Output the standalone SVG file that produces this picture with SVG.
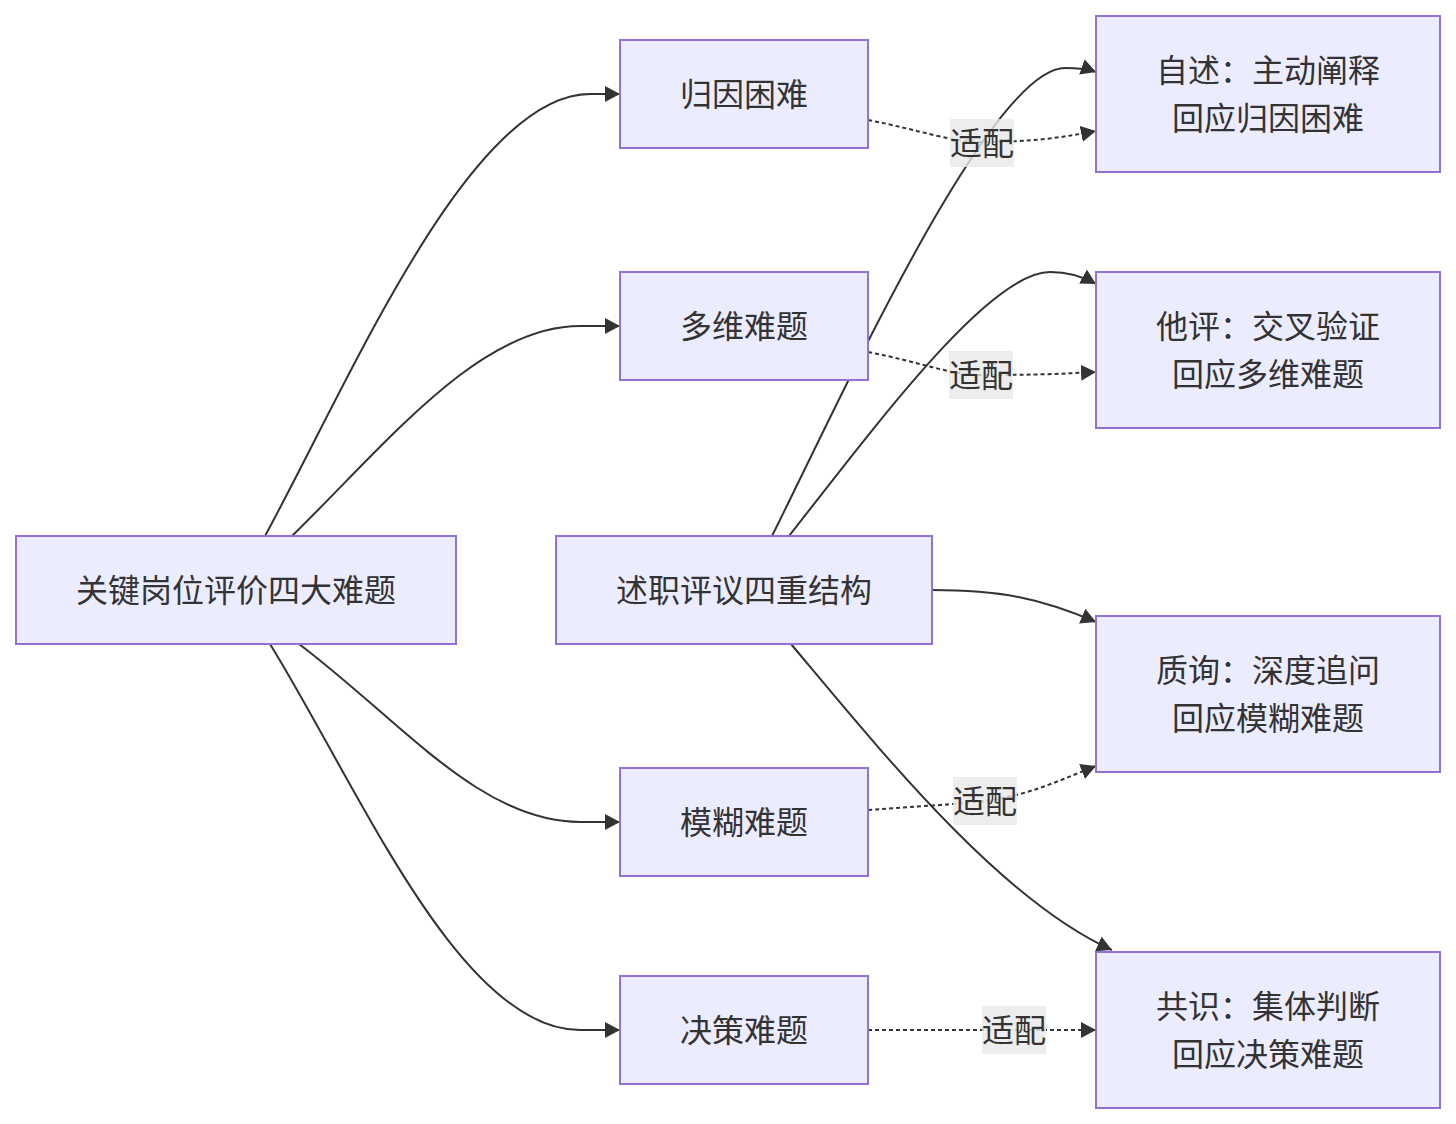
<svg xmlns="http://www.w3.org/2000/svg" width="1456" height="1124" viewBox="0 0 1456 1124">
<style>
.node rect{fill:#ECECFF;stroke:#9370DB;stroke-width:2}
.node text,.lbl text{font-family:"Noto Sans CJK SC","Noto Sans",sans-serif;font-size:32px;fill:#333;text-anchor:middle;dominant-baseline:central}
.edge{fill:none;stroke:#333;stroke-width:2}
.dot{stroke-dasharray:4 3}
.lbl rect{fill:#e8e8e8;fill-opacity:0.8}
</style>
<defs>
<marker id="arr" markerUnits="userSpaceOnUse" markerWidth="16" markerHeight="16" refX="15" refY="8" orient="auto">
<path d="M0,0 L15,8 L0,16 z" fill="#333"/>
</marker>
</defs>
<rect width="1456" height="1124" fill="#fff"/>
<g id="connectors">
<path class="edge" d="M265,536 C350,380 470,94 590,94 L620,94" marker-end="url(#arr)"/>
<path class="edge" d="M292,536 C390,440 480,326 580,326 L620,326" marker-end="url(#arr)"/>
<path class="edge" d="M299,644 C400,720 480,822 580,822 L620,822" marker-end="url(#arr)"/>
<path class="edge" d="M270,644 C360,790 460,1030 580,1030 L620,1030" marker-end="url(#arr)"/>
<path class="edge" d="M772,536 C840,400 990,68 1065,68 Q1085,68 1096,72" marker-end="url(#arr)"/>
<path class="edge" d="M789,536 C880,420 990,272 1050,272 Q1075,272 1096,284" marker-end="url(#arr)"/>
<path class="edge" d="M932,590 C1000,590 1040,598 1096,622" marker-end="url(#arr)"/>
<path class="edge" d="M791,644 C880,750 1000,900 1112,950" marker-end="url(#arr)"/>
<path class="edge dot" d="M868,120 C920,130 950,142 982,142 C1030,142 1060,138 1096,131" marker-end="url(#arr)"/>
<path class="edge dot" d="M868,352 C920,362 950,375 981,375 C1030,375 1060,374 1096,372" marker-end="url(#arr)"/>
<path class="edge dot" d="M868,810 C920,806 950,805 985,801 C1030,795 1060,780 1096,766" marker-end="url(#arr)"/>
<path class="edge dot" d="M868,1030 L1096,1030" marker-end="url(#arr)"/>
</g>
<g id="edge-labels">
<g class="lbl"><rect x="950" y="119" width="64" height="48"/><text x="982" y="141">适配</text></g>
<g class="lbl"><rect x="949" y="351" width="64" height="48"/><text x="981" y="373">适配</text></g>
<g class="lbl"><rect x="953" y="777" width="64" height="48"/><text x="985" y="799">适配</text></g>
<g class="lbl"><rect x="982" y="1006" width="64" height="48"/><text x="1014" y="1028">适配</text></g>
</g>
<g id="A" class="node"><rect x="16" y="536" width="440" height="108"/><text x="236" y="588">关键岗位评价四大难题</text></g>
<g id="B1" class="node"><rect x="620" y="40" width="248" height="108"/><text x="744" y="92">归因困难</text></g>
<g id="B2" class="node"><rect x="620" y="272" width="248" height="108"/><text x="744" y="324">多维难题</text></g>
<g id="B3" class="node"><rect x="620" y="768" width="248" height="108"/><text x="744" y="820">模糊难题</text></g>
<g id="B4" class="node"><rect x="620" y="976" width="248" height="108"/><text x="744" y="1028">决策难题</text></g>
<g id="S" class="node"><rect x="556" y="536" width="376" height="108"/><text x="744" y="588">述职评议四重结构</text></g>
<g id="R1" class="node"><rect x="1096" y="16" width="344" height="156"/><text x="1268" y="68">自述：主动阐释</text><text x="1268" y="116">回应归因困难</text></g>
<g id="R2" class="node"><rect x="1096" y="272" width="344" height="156"/><text x="1268" y="324">他评：交叉验证</text><text x="1268" y="372">回应多维难题</text></g>
<g id="R3" class="node"><rect x="1096" y="616" width="344" height="156"/><text x="1268" y="668">质询：深度追问</text><text x="1268" y="716">回应模糊难题</text></g>
<g id="R4" class="node"><rect x="1096" y="952" width="344" height="156"/><text x="1268" y="1004">共识：集体判断</text><text x="1268" y="1052">回应决策难题</text></g>
</svg>
